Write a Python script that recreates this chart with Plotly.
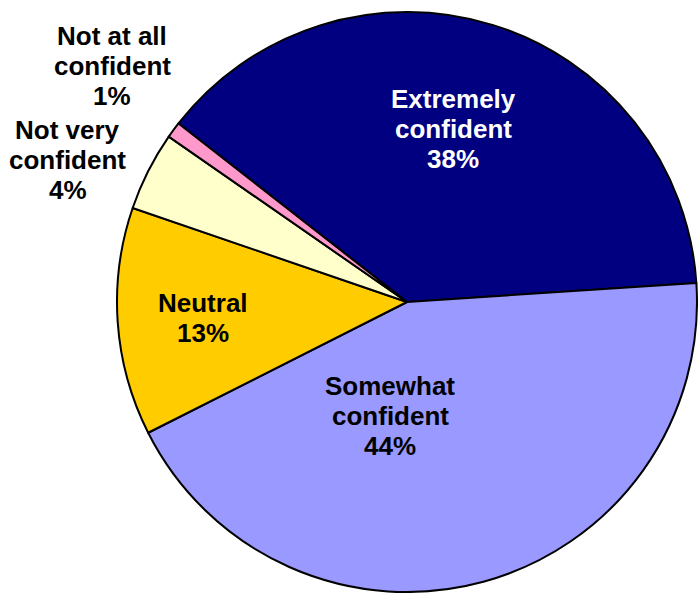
import plotly.graph_objects as go

labels = ["Extremely confident", "Somewhat confident", "Neutral", "Not very confident", "Not at all confident"]
values = [38.4, 43.6, 12.7, 4.4, 0.9]
colors = ["#000080", "#9999FF", "#FFCC00", "#FFFFCC", "#FF99CC"]
label_lines = [["Extremely", "confident", "38%"], ["Somewhat", "confident", "44%"], ["Neutral", "13%"],
               ["Not very", "confident", "4%"], ["Not at all", "confident", "1%"]]
label_colors = ["white", "black", "black", "black", "black"]
# label anchor: (center x, first-line baseline y) in page pixels
label_pos = [(453, 109), (390, 396), (203.5, 313), (67.5, 140), (112, 46)]

W, H = 698, 593
FS = 26
LINE = 30

fig = go.Figure(go.Pie(
    labels=labels, values=values, sort=False, direction="clockwise",
    rotation=308,
    marker=dict(colors=colors, line=dict(color="black", width=2)),
    textinfo="none", hoverinfo="skip", showlegend=False,
    domain=dict(x=[117 / W, 697 / W], y=[(593 - 592) / H, (593 - 12) / H]),
))

for lines, c, (px, py) in zip(label_lines, label_colors, label_pos):
    for i, t in enumerate(lines):
        base = py + i * LINE
        mid = base - 0.4 * FS
        fig.add_annotation(x=px / W, y=1 - mid / H, xref="paper", yref="paper",
                           text="<b>" + t + "</b>", showarrow=False,
                           xanchor="center", yanchor="middle", align="center",
                           font=dict(family="Liberation Sans, Arial, sans-serif", size=FS, color=c))

fig.update_layout(width=W, height=H, margin=dict(l=0, r=0, t=0, b=0),
                  paper_bgcolor="white", plot_bgcolor="white")

fig.write_html("out.html", config={"displayModeBar": False},
               post_script="document.body.style.margin='0';document.body.style.overflow='hidden';")
